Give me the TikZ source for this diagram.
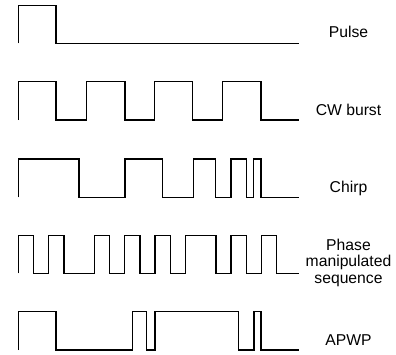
\documentclass[tikz,border=0pt]{standalone}
\usepackage{fontspec}
\setmainfont{Liberation Sans}
\begin{document}
\begin{tikzpicture}[x=1pt,y=-1pt,
  wave/.style={line width=1.4pt,draw=black,line join=miter},
  lbl/.style={font=\fontsize{15.7}{16.7}\selectfont,inner sep=0pt,align=center,text=black}]
\useasboundingbox (0,0) rectangle (396,354);
% Pulse
\draw[wave] (18.3,43.3) |- (56,5.7) |- (299,43.3);
% CW burst
\draw[wave] (18.3,120) |- (56,81.7) |- (86.7,120) |- (125,81.7) |- (154.3,120) |- (192.7,81.7) |- (222.7,120) |- (261,81.7) |- (299,120);
% Chirp
\draw[wave] (18.3,197.3) |- (79,159) |- (125,197.3) |- (162.7,159) |- (193.3,197.3) |- (215.7,159) |- (231,197.3) |- (246.7,159) |- (253.3,197.3) |- (261,159) |- (299,197.3);
% Phase manipulated sequence
\draw[wave] (18.3,273.3) |- (33.5,235.7) |- (48.7,273.3) |- (63.9,235.7) |- (94.3,273.3) |- (109.5,235.7) |- (124.7,273.3) |- (139.9,235.7) |- (155.1,273.3) |- (170.3,235.7) |- (185.5,273.3) |- (215.9,235.7) |- (231.1,273.3) |- (246.3,235.7) |- (261.5,273.3) |- (276.7,235.7) |- (299,273.3);
% APWP
\draw[wave] (18.3,350) |- (56,311.7) |- (132.3,350) |- (146.7,311.7) |- (155,350) |- (238.3,311.7) |- (254,350) |- (261,311.7) |- (299,350);
% Labels
\node[lbl,anchor=base] (pulse) at (348.5,37.7) {Pulse};
\node[lbl,anchor=base] (cw) at (348.5,115) {CW burst};
\node[lbl,anchor=base] (chirp) at (348.5,192.7) {Chirp};
\node[lbl,anchor=north] (phase) at (348.5,238.6) {Phase\\manipulated\\sequence};
\node[lbl,anchor=base] (apwp) at (348.5,345) {APWP};
\end{tikzpicture}
\end{document}
